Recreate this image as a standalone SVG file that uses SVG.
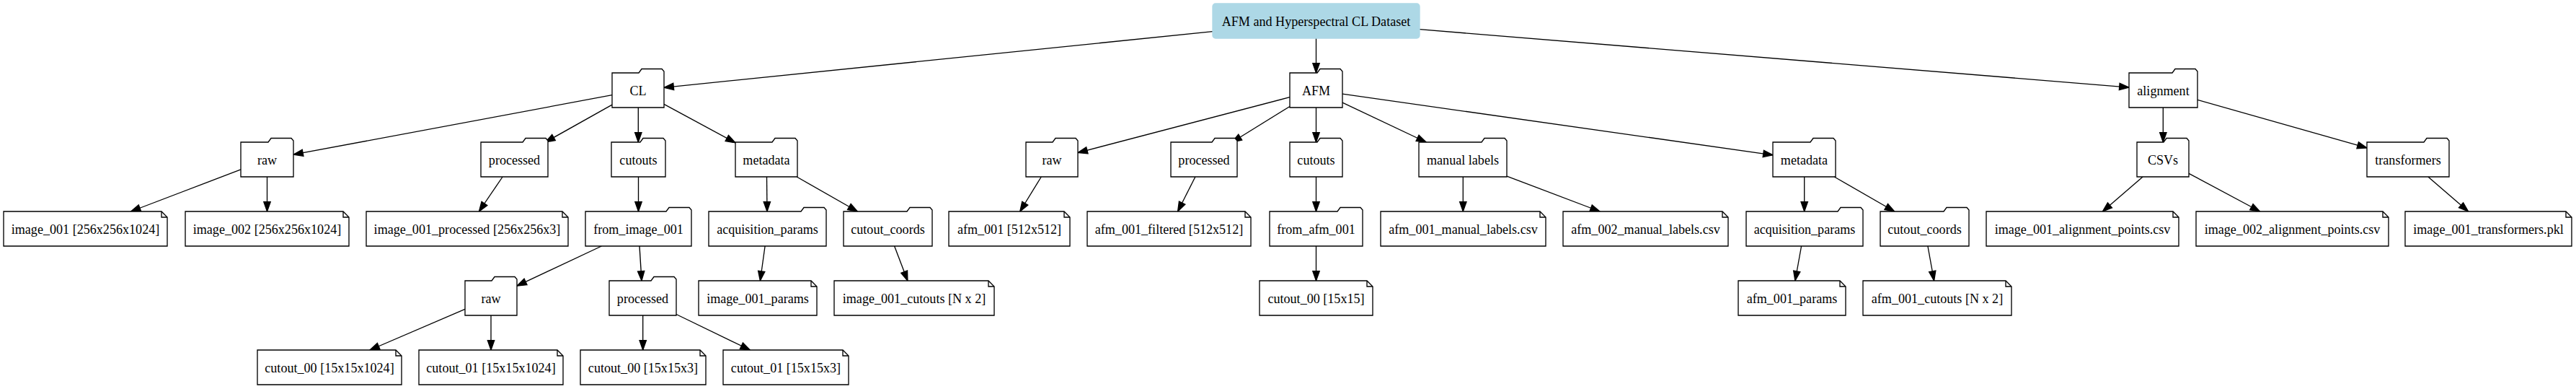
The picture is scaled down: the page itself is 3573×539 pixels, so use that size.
<svg xmlns="http://www.w3.org/2000/svg" width="3573" height="539" viewBox="0 0 3573 539">
<defs>
<style>
.bg{fill:#ffffff}
.nd{fill:#ffffff;stroke:#000000;stroke-width:1.33}
.fold{fill:none;stroke:#000000;stroke-width:1.33}
.root{fill:#add8e6;stroke:#add8e6;stroke-width:1.33}
text{font-family:"Liberation Serif","Times New Roman",serif;font-size:18.1px;fill:#000000;text-anchor:middle}
.edges line{stroke:#000000;stroke-width:1.33;marker-end:url(#arr)}
</style>
<marker id="arr" markerUnits="userSpaceOnUse" markerWidth="14" markerHeight="10" refX="13.3" refY="4.67" orient="auto" overflow="visible">
<path d="M0,0 L13.3,4.67 L0,9.33 Z" fill="#000000" stroke="#000000" stroke-width="1.33"/>
</marker>
</defs>
<rect class="bg" x="0" y="0" width="3573" height="539"/>

<g id="edges" class="edges">
<line x1="1682" y1="43.65" x2="921" y2="121.3"/>
<line x1="1825.5" y1="53" x2="1825.5" y2="101"/>
<line x1="1969" y1="40.7" x2="2953" y2="121.1"/>
<line x1="849" y1="131.7" x2="407" y2="214.2"/>
<line x1="849" y1="145.2" x2="756.4" y2="197"/>
<line x1="885.3" y1="149" x2="885.3" y2="197"/>
<line x1="921" y1="144.4" x2="1020" y2="197.8"/>
<line x1="334" y1="234.9" x2="181.5" y2="293"/>
<line x1="370.5" y1="245" x2="370.5" y2="293"/>
<line x1="697.1" y1="245" x2="664.4" y2="293"/>
<line x1="885.5" y1="245" x2="885.5" y2="293"/>
<line x1="1063.5" y1="245" x2="1064" y2="293"/>
<line x1="1105.1" y1="245" x2="1189.4" y2="293"/>
<line x1="834.4" y1="341" x2="717" y2="396.1"/>
<line x1="887" y1="341" x2="890" y2="389"/>
<line x1="1061.1" y1="341" x2="1054.4" y2="389"/>
<line x1="1240.6" y1="341" x2="1258.9" y2="389"/>
<line x1="645" y1="428.4" x2="513" y2="485"/>
<line x1="681" y1="437" x2="681" y2="485"/>
<line x1="891.7" y1="437" x2="891.7" y2="485"/>
<line x1="938" y1="435.5" x2="1040.4" y2="485"/>
<line x1="1789" y1="134.6" x2="1495" y2="211.6"/>
<line x1="1789" y1="147.5" x2="1708.9" y2="197"/>
<line x1="1825.5" y1="149" x2="1825.5" y2="197"/>
<line x1="1862" y1="142.2" x2="1978.1" y2="197"/>
<line x1="1862" y1="130.2" x2="2459" y2="214.8"/>
<line x1="1444.25" y1="245" x2="1414.75" y2="293"/>
<line x1="1657.9" y1="245" x2="1633.6" y2="293"/>
<line x1="1825.5" y1="245" x2="1825.5" y2="293"/>
<line x1="2029.3" y1="245" x2="2029.3" y2="293"/>
<line x1="2090" y1="244.1" x2="2219.1" y2="293"/>
<line x1="2502.7" y1="245" x2="2502.7" y2="293"/>
<line x1="2544.25" y1="245" x2="2627.75" y2="293"/>
<line x1="2498.6" y1="341" x2="2489.9" y2="389"/>
<line x1="2673.9" y1="341" x2="2682.6" y2="389"/>
<line x1="1825.5" y1="341" x2="1825.5" y2="389"/>
<line x1="3000.3" y1="149" x2="3000.3" y2="197"/>
<line x1="3048" y1="138.4" x2="3283" y2="204.9"/>
<line x1="2972.1" y1="245" x2="2916.4" y2="293"/>
<line x1="3036" y1="240.3" x2="3134.6" y2="293"/>
<line x1="3367.9" y1="245" x2="3423.6" y2="293"/>
</g>

<g id="root">
<rect class="root" x="1682" y="5" width="287" height="48" rx="4"/>
<text x="1825.5" y="36">AFM and Hyperspectral CL Dataset</text>
</g>

<!-- Rank 1 folders -->
<g id="cl"><path class="nd" d="M849,101 H886 L890,95.5 H918 L921,99 V149 H849 Z"/><text x="885" y="132">CL</text></g>
<g id="afm"><path class="nd" d="M1789,101 H1827 L1831,95.5 H1859 L1862,99 V149 H1789 Z"/><text x="1825.5" y="132">AFM</text></g>
<g id="alignment"><path class="nd" d="M2953,101 H3013 L3017,95.5 H3045 L3048,99 V149 H2953 Z"/><text x="3000.5" y="132">alignment</text></g>

<!-- Rank 2 folders -->
<g id="cl_raw"><path class="nd" d="M334,197 H372 L376,191.5 H404 L407,195 V245 H334 Z"/><text x="370.5" y="228">raw</text></g>
<g id="cl_processed"><path class="nd" d="M667,197 H725 L729,191.5 H757 L760,195 V245 H667 Z"/><text x="713.5" y="228">processed</text></g>
<g id="cl_cutouts"><path class="nd" d="M848,197 H888 L892,191.5 H920 L923,195 V245 H848 Z"/><text x="885.5" y="228">cutouts</text></g>
<g id="cl_metadata"><path class="nd" d="M1020,197 H1071 L1075,191.5 H1103 L1106,195 V245 H1020 Z"/><text x="1063" y="228">metadata</text></g>
<g id="afm_raw"><path class="nd" d="M1423,197 H1460 L1464,191.5 H1492 L1495,195 V245 H1423 Z"/><text x="1459" y="228">raw</text></g>
<g id="afm_processed"><path class="nd" d="M1624,197 H1681 L1685,191.5 H1713 L1716,195 V245 H1624 Z"/><text x="1670" y="228">processed</text></g>
<g id="afm_cutouts"><path class="nd" d="M1789,197 H1827 L1831,191.5 H1859 L1862,195 V245 H1789 Z"/><text x="1825.5" y="228">cutouts</text></g>
<g id="afm_manual_labels"><path class="nd" d="M1968,197 H2055 L2059,191.5 H2087 L2090,195 V245 H1968 Z"/><text x="2029" y="228">manual labels</text></g>
<g id="afm_metadata"><path class="nd" d="M2459,197 H2511 L2515,191.5 H2543 L2546,195 V245 H2459 Z"/><text x="2502.5" y="228">metadata</text></g>
<g id="csvs"><path class="nd" d="M2964,197 H3001 L3005,191.5 H3033 L3036,195 V245 H2964 Z"/><text x="3000" y="228">CSVs</text></g>
<g id="transformers"><path class="nd" d="M3283,197 H3362 L3366,191.5 H3394 L3397,195 V245 H3283 Z"/><text x="3340" y="228">transformers</text></g>

<!-- Rank 3 -->
<g id="image_001"><path class="nd" d="M5,293 H224 L232,301 V341 H5 Z"/><path class="fold" d="M224,293 V301 H232"/><text x="118.5" y="324">image_001 [256x256x1024]</text></g>
<g id="image_002"><path class="nd" d="M257,293 H476 L484,301 V341 H257 Z"/><path class="fold" d="M476,293 V301 H484"/><text x="370.5" y="324">image_002 [256x256x1024]</text></g>
<g id="image_001_processed"><path class="nd" d="M508,293 H780 L788,301 V341 H508 Z"/><path class="fold" d="M780,293 V301 H788"/><text x="648" y="324">image_001_processed [256x256x3]</text></g>
<g id="from_image_001"><path class="nd" d="M812,293 H924 L928,287.5 H956 L959,291 V341 H812 Z"/><text x="885.5" y="324">from_image_001</text></g>
<g id="cl_acquisition_params"><path class="nd" d="M983,293 H1111 L1115,287.5 H1143 L1146,291 V341 H983 Z"/><text x="1064.5" y="324">acquisition_params</text></g>
<g id="cl_cutout_coords"><path class="nd" d="M1170,293 H1258 L1262,287.5 H1290 L1293,291 V341 H1170 Z"/><text x="1231.5" y="324">cutout_coords</text></g>
<g id="afm_001"><path class="nd" d="M1316,293 H1476 L1484,301 V341 H1316 Z"/><path class="fold" d="M1476,293 V301 H1484"/><text x="1400" y="324">afm_001 [512x512]</text></g>
<g id="afm_001_filtered"><path class="nd" d="M1508,293 H1727 L1735,301 V341 H1508 Z"/><path class="fold" d="M1727,293 V301 H1735"/><text x="1621.5" y="324">afm_001_filtered [512x512]</text></g>
<g id="from_afm_001"><path class="nd" d="M1761,293 H1855 L1859,287.5 H1887 L1890,291 V341 H1761 Z"/><text x="1825.5" y="324">from_afm_001</text></g>
<g id="afm_001_manual_labels"><path class="nd" d="M1915,293 H2136 L2144,301 V341 H1915 Z"/><path class="fold" d="M2136,293 V301 H2144"/><text x="2029.5" y="324">afm_001_manual_labels.csv</text></g>
<g id="afm_002_manual_labels"><path class="nd" d="M2168,293 H2389 L2397,301 V341 H2168 Z"/><path class="fold" d="M2389,293 V301 H2397"/><text x="2282.5" y="324">afm_002_manual_labels.csv</text></g>
<g id="afm_acquisition_params"><path class="nd" d="M2422,293 H2549 L2553,287.5 H2581 L2584,291 V341 H2422 Z"/><text x="2503" y="324">acquisition_params</text></g>
<g id="afm_cutout_coords"><path class="nd" d="M2608,293 H2696 L2700,287.5 H2728 L2731,291 V341 H2608 Z"/><text x="2669.5" y="324">cutout_coords</text></g>
<g id="image_001_alignment_points"><path class="nd" d="M2755,293 H3014 L3022,301 V341 H2755 Z"/><path class="fold" d="M3014,293 V301 H3022"/><text x="2888.5" y="324">image_001_alignment_points.csv</text></g>
<g id="image_002_alignment_points"><path class="nd" d="M3046,293 H3305 L3313,301 V341 H3046 Z"/><path class="fold" d="M3305,293 V301 H3313"/><text x="3179.5" y="324">image_002_alignment_points.csv</text></g>
<g id="image_001_transformers"><path class="nd" d="M3336,293 H3559 L3567,301 V341 H3336 Z"/><path class="fold" d="M3559,293 V301 H3567"/><text x="3451.5" y="324">image_001_transformers.pkl</text></g>

<!-- Rank 4 -->
<g id="fi_raw"><path class="nd" d="M645,389 H682 L686,383.5 H714 L717,387 V437 H645 Z"/><text x="681" y="420">raw</text></g>
<g id="fi_processed"><path class="nd" d="M845,389 H903 L907,383.5 H935 L938,387 V437 H845 Z"/><text x="891.5" y="420">processed</text></g>
<g id="image_001_params"><path class="nd" d="M969,389 H1125 L1133,397 V437 H969 Z"/><path class="fold" d="M1125,389 V397 H1133"/><text x="1051" y="420">image_001_params</text></g>
<g id="image_001_cutouts"><path class="nd" d="M1157,389 H1371 L1379,397 V437 H1157 Z"/><path class="fold" d="M1371,389 V397 H1379"/><text x="1268" y="420">image_001_cutouts [N x 2]</text></g>
<g id="afm_cutout_00"><path class="nd" d="M1747,389 H1896 L1904,397 V437 H1747 Z"/><path class="fold" d="M1896,389 V397 H1904"/><text x="1825.5" y="420">cutout_00 [15x15]</text></g>
<g id="afm_001_params"><path class="nd" d="M2411,389 H2552 L2560,397 V437 H2411 Z"/><path class="fold" d="M2552,389 V397 H2560"/><text x="2485.5" y="420">afm_001_params</text></g>
<g id="afm_001_cutouts"><path class="nd" d="M2584,389 H2782 L2790,397 V437 H2584 Z"/><path class="fold" d="M2782,389 V397 H2790"/><text x="2687" y="420">afm_001_cutouts [N x 2]</text></g>

<!-- Rank 5 -->
<g id="raw_cutout_00"><path class="nd" d="M357,485 H549 L557,493 V533 H357 Z"/><path class="fold" d="M549,485 V493 H557"/><text x="457" y="516">cutout_00 [15x15x1024]</text></g>
<g id="raw_cutout_01"><path class="nd" d="M581,485 H773 L781,493 V533 H581 Z"/><path class="fold" d="M773,485 V493 H781"/><text x="681" y="516">cutout_01 [15x15x1024]</text></g>
<g id="proc_cutout_00"><path class="nd" d="M805,485 H971 L979,493 V533 H805 Z"/><path class="fold" d="M971,485 V493 H979"/><text x="892" y="516">cutout_00 [15x15x3]</text></g>
<g id="proc_cutout_01"><path class="nd" d="M1003,485 H1169 L1177,493 V533 H1003 Z"/><path class="fold" d="M1169,485 V493 H1177"/><text x="1090" y="516">cutout_01 [15x15x3]</text></g>
</svg>
